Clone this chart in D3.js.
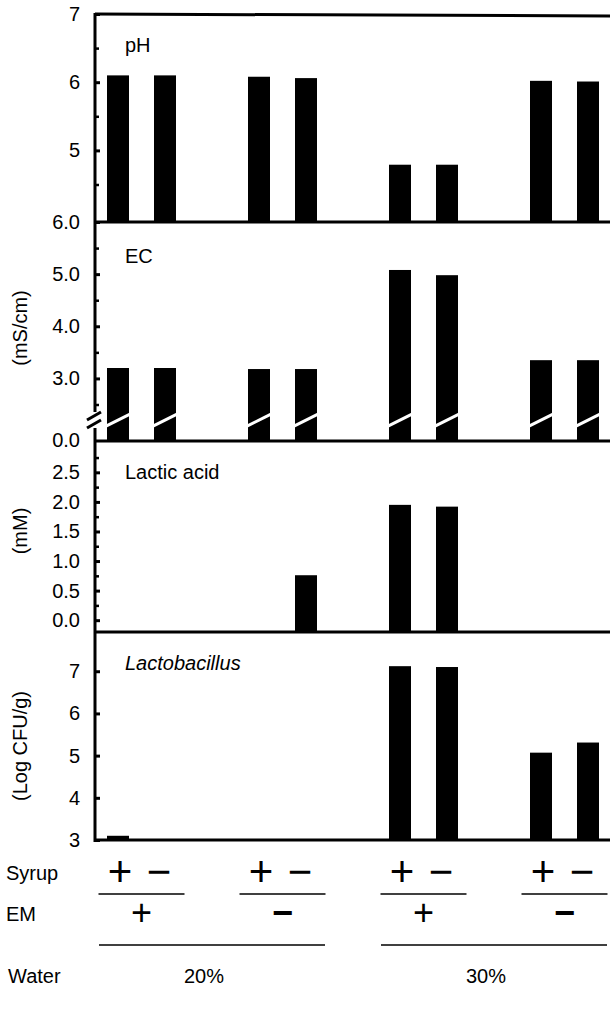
<!doctype html>
<meta charset="utf-8">
<style>
 body { margin: 0; background: #fff; }
 svg text { font-family: "Liberation Sans", Arial, Helvetica, sans-serif; fill: #000; }
</style>
<svg width="610" height="1011"></svg>
<script src="https://d3js.org/d3.v7.min.js"></script>
<script>
 // treatments, left to right: water > EM > syrup
 var waters = ["20%", "30%"];
 var emLevels = ["+", "−"];
 var syrupLevels = ["+", "−"];

 // one value per bar, same order as the treatments
 var phValues = [6.10, 6.10, 6.08, 6.06, 4.79, 4.79, 6.02, 6.01];
 var ecValues = [3.20, 3.20, 3.18, 3.18, 5.08, 4.98, 3.35, 3.35];
 var lacticValues = [0, 0, 0, 0.76, 1.95, 1.92, 0, 0];
 var lactoValues = [3.1, null, null, null, 7.12, 7.10, 5.07, 5.31];

 // tick labels
 var phTicks = [7, 6, 5];
 var phMinor = [6.5, 5.5, 4.5];
 var ecTicks = [6.0, 5.0, 4.0, 3.0];
 var ecMinor = [5.5, 4.5, 3.5, 2.5];
 var lacticTicks = [0, 0.5, 1.0, 1.5, 2.0, 2.5];
 var lacticMinor = [0.25, 0.75, 1.25, 1.75, 2.25, 2.75];
 var lactoTicks = [3, 4, 5, 6, 7];

 var svg = d3.select("svg");
 var axisX = 95, rightX = 610, barW = 22;

 var conds = [];
 waters.forEach(function(w) {
   emLevels.forEach(function(e) {
     syrupLevels.forEach(function(s) {
       conds.push({water: w, em: e, syrup: s, group: w + " " + e});
     });
   });
 });
 var groups = conds.map(function(d) { return d.group; })
                   .filter(function(g, i, a) { return a.indexOf(g) === i; });

 var xWater = d3.scaleBand().domain(waters).range([71, 635]);
 var xGroup = d3.scaleBand().domain(groups).range([71, 635]);
 var xSyrup = d3.scalePoint().domain(syrupLevels).range([0, xGroup.bandwidth()]).padding(1);
 function cx(d) { return xGroup(d.group) + xSyrup(d.syrup); }

 var panels = [
   {values: phValues, domain: [3.95, 7], top: 14, bottom: 222, ticks: phTicks, minor: phMinor,
    fmt: "d", label: "pH", labelY: 52},
   {values: ecValues, domain: [1.8, 6.0], top: 222, bottom: 441, ticks: ecTicks, minor: ecMinor,
    fmt: ".1f", label: "EC", labelY: 263, unit: "(mS/cm)", unitY: 328, broken: true},
   {values: lacticValues, domain: [-0.2, 3.03], top: 441, bottom: 632, ticks: lacticTicks, minor: lacticMinor,
    fmt: ".1f", label: "Lactic acid", labelY: 479, unit: "(mM)", unitY: 531},
   {values: lactoValues, domain: [3, 7.93], top: 632, bottom: 840, ticks: lactoTicks, minor: [],
    fmt: "d", label: "Lactobacillus", italic: true, labelY: 670, unit: "(Log CFU/g)", unitY: 746}
 ];

 panels.forEach(function(p, pi) {
   var y = d3.scaleLinear().domain(p.domain).range([p.bottom, p.top]);
   var g = svg.append("g");

   var data = conds.map(function(c, i) { return {c: c, v: p.values[i]}; })
                   .filter(function(d) { return d.v != null && d.v > 0; });

   g.selectAll("rect.bar").data(data).enter().append("rect")
     .attr("class", "bar")
     .attr("x", function(d) { return cx(d.c) - barW / 2; })
     .attr("width", barW)
     .attr("y", function(d) { return y(d.v); })
     .attr("height", function(d) { return p.bottom - y(d.v); })
     .attr("fill", "#000");

   if (p.broken) {
     var yb = y(2.2);
     g.selectAll("line.cut").data(data).enter().append("line")
       .attr("x1", function(d) { return cx(d.c) - barW / 2 - 1; })
       .attr("x2", function(d) { return cx(d.c) + barW / 2 + 1; })
       .attr("y1", yb + 6).attr("y2", yb - 6)
       .attr("stroke", "#fff").attr("stroke-width", 3);
   }

   // frame lines
   if (pi === 0) {
     svg.append("line").attr("x1", axisX).attr("x2", rightX).attr("y1", p.top).attr("y2", p.top + 2)
       .attr("stroke", "#000").attr("stroke-width", 3);
   }
   svg.append("line").attr("x1", axisX).attr("x2", rightX).attr("y1", p.bottom).attr("y2", p.bottom)
     .attr("stroke", "#000").attr("stroke-width", 3);

   // axis
   var ax = svg.append("g").attr("transform", "translate(" + axisX + ",0)")
     .call(d3.axisLeft(y).tickValues(p.ticks).tickSize(-5).tickPadding(15).tickFormat(d3.format(p.fmt)));
   ax.select(".domain").remove();
   ax.attr("font-size", null).attr("font-family", null);
   ax.selectAll(".tick line").attr("stroke", "#000").attr("stroke-width", 3);
   ax.selectAll(".tick text").style("font-size", "20px");

   if (p.minor.length) {
     var mx = svg.append("g").attr("transform", "translate(" + axisX + ",0)")
       .call(d3.axisLeft(y).tickValues(p.minor).tickSize(-4).tickFormat(""));
     mx.select(".domain").remove();
     mx.selectAll(".tick line").attr("stroke", "#000").attr("stroke-width", 2.5);
   }

   if (p.broken) {
     svg.append("text").attr("x", axisX - 15).attr("y", p.bottom).attr("dy", "0.32em")
       .attr("text-anchor", "end").style("font-size", "20px").text("0.0");
   }

   svg.append("text").attr("x", 125).attr("y", p.labelY)
     .style("font-size", "20px").style("font-style", p.italic ? "italic" : "normal")
     .text(p.label);

   if (p.unit) {
     svg.append("text").attr("transform", "translate(20," + p.unitY + ") rotate(-90)")
       .attr("text-anchor", "middle").attr("dy", "0.35em")
       .style("font-size", "20px").text(p.unit);
   }
 });

 // left axis line with break in the EC panel
 svg.append("line").attr("x1", axisX).attr("x2", axisX).attr("y1", 13).attr("y2", 412)
   .attr("stroke", "#000").attr("stroke-width", 3);
 svg.append("line").attr("x1", axisX).attr("x2", axisX).attr("y1", 428).attr("y2", 842)
   .attr("stroke", "#000").attr("stroke-width", 3);
 [[412, 420], [420, 428]].forEach(function(b) {
   svg.append("line").attr("x1", axisX - 8).attr("x2", axisX + 6)
     .attr("y1", b[1]).attr("y2", b[0])
     .attr("stroke", "#000").attr("stroke-width", 3);
 });

 // treatment legend below the chart
 var lab = svg.append("g");
 var rowSyrup = 873, lineEM = 894, rowEM = 914, lineWater = 945, rowWater = 976;

 lab.append("text").attr("x", 6).attr("y", rowSyrup).attr("dy", "0.35em").style("font-size", "20px").text("Syrup");
 lab.append("text").attr("x", 6).attr("y", rowEM).attr("dy", "0.35em").style("font-size", "20px").text("EM");
 lab.append("text").attr("x", 8).attr("y", rowWater).attr("dy", "0.35em").style("font-size", "20px").text("Water");

 lab.selectAll("text.syr").data(conds).enter().append("text")
   .attr("x", function(d) { return cx(d) + (d.syrup === "+" ? 2 : -6); })
   .attr("y", rowSyrup + 13)
   .attr("text-anchor", "middle").style("font-size", "42px")
   .text(function(d) { return d.syrup; });

 lab.selectAll("line.em").data(groups).enter().append("line")
   .attr("x1", function(g) { return xGroup(g) + xGroup.bandwidth() / 2 - 43; })
   .attr("x2", function(g) { return xGroup(g) + xGroup.bandwidth() / 2 + 43; })
   .attr("y1", lineEM).attr("y2", lineEM)
   .attr("stroke", "#000").attr("stroke-width", 1.5);

 lab.selectAll("text.em").data(groups).enter().append("text")
   .attr("x", function(g) { return xGroup(g) + xGroup.bandwidth() / 2; })
   .attr("y", rowEM + 11)
   .attr("text-anchor", "middle").style("font-size", "36px")
   .style("font-weight", function(g) { return g.slice(-1) === "−" ? "bold" : "normal"; })
   .text(function(g) { return g.slice(-1); });

 lab.selectAll("line.water").data(waters).enter().append("line")
   .attr("x1", function(w) { return xWater(w) + xWater.bandwidth() / 2 - 113; })
   .attr("x2", function(w) { return xWater(w) + xWater.bandwidth() / 2 + 113; })
   .attr("y1", lineWater).attr("y2", lineWater)
   .attr("stroke", "#000").attr("stroke-width", 1.5);

 lab.selectAll("text.water").data(waters).enter().append("text")
   .attr("x", function(w) { return xWater(w) + xWater.bandwidth() / 2 - 8; })
   .attr("y", rowWater).attr("dy", "0.35em")
   .attr("text-anchor", "middle").style("font-size", "20px")
   .text(function(w) { return w; });
</script>
